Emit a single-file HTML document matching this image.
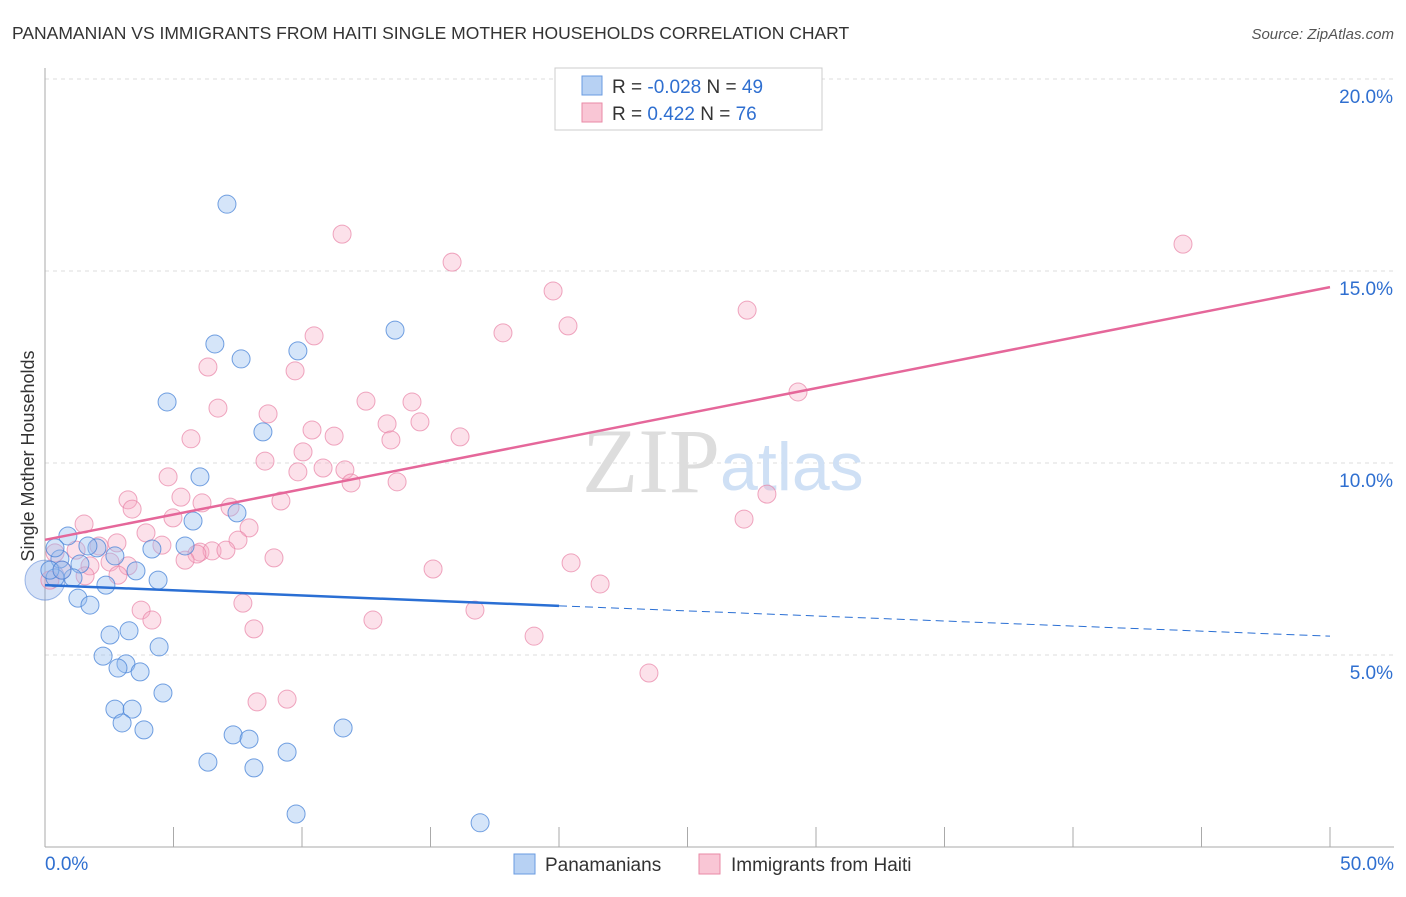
<!DOCTYPE html>
<html><head><meta charset="utf-8"><style>
body{margin:0;background:#fff;font-family:"Liberation Sans",sans-serif;}
#wrap{position:relative;width:1406px;height:892px;}
</style></head><body>
<div id="wrap">
<svg id="svg" width="1406" height="892" xmlns="http://www.w3.org/2000/svg">
<text x="12" y="39" font-size="17.5" fill="#333">PANAMANIAN VS IMMIGRANTS FROM HAITI SINGLE MOTHER HOUSEHOLDS CORRELATION CHART</text>
<text x="1394" y="39" font-size="15" fill="#555" font-style="italic" text-anchor="end">Source: ZipAtlas.com</text>
<text x="34" y="456" font-size="18" fill="#333" text-anchor="middle" transform="rotate(-90 34 456)">Single Mother Households</text>
<g id="grid"></g>
<text x="720" y="492" font-size="92" fill="#ddd" text-anchor="end" font-family="Liberation Serif,serif">ZIP</text>
<text x="720" y="490" font-size="68" fill="#cfe0f5">atlas</text>
<g id="marks"></g>
<g id="trend"></g>
<g>
<rect x="555" y="68" width="267" height="62" fill="#fff" stroke="#ccc"/>
<rect x="582" y="76" width="20" height="19" fill="#b7d1f3" stroke="#6a9be0"/>
<rect x="582" y="103" width="20" height="19" fill="#f9c6d5" stroke="#e98aa6"/>
<text x="612" y="93" font-size="19" fill="#333">R = <tspan fill="#2f6fd0">-0.028</tspan>   N = <tspan fill="#2f6fd0">49</tspan></text>
<text x="612" y="120" font-size="19" fill="#333">R =   <tspan fill="#2f6fd0">0.422</tspan>   N = <tspan fill="#2f6fd0">76</tspan></text>
</g>
<g>
<rect x="514" y="854" width="21" height="20" fill="#b7d1f3" stroke="#6a9be0"/>
<text x="545" y="871" font-size="19" fill="#333">Panamanians</text>
<rect x="699" y="854" width="21" height="20" fill="#f9c6d5" stroke="#e98aa6"/>
<text x="731" y="871" font-size="19" fill="#333">Immigrants from Haiti</text>
</g>
</svg>
</div>
<script>
const xTicks=[0,5,10,15,20,25,30,35,40,45,50];
const yTicks=[5,10,15,20];
const yTickLabels=["5.0%","10.0%","15.0%","20.0%"];
const xTickLabels=["0.0%","50.0%"];
const blueX=[7.08,6.61,7.63,9.84,13.62,4.75,8.48,6.03,7.47,5.76,0.89,2.02,4.16,5.45,1.67,0.58,2.72,1.36,0.39,1.09,2.37,3.54,4.40,1.28,1.75,2.53,3.27,4.44,2.26,3.15,2.84,3.70,4.59,2.72,3.39,3.00,3.85,7.32,7.94,11.60,9.42,6.34,8.13,9.77,16.93,0.19,0.66,0.39];
const blueY=[16.74,13.10,12.71,12.92,13.46,11.59,10.81,9.64,8.70,8.49,8.10,7.79,7.76,7.84,7.84,7.50,7.58,7.37,7.01,7.01,6.82,7.19,6.95,6.48,6.30,5.52,5.63,5.21,4.97,4.77,4.66,4.56,4.01,3.59,3.59,3.23,3.05,2.92,2.81,3.10,2.47,2.21,2.06,0.86,0.63,7.21,7.21,7.79];
const pinkX=[11.56,15.84,44.28,19.77,27.32,20.35,17.82,10.47,6.34,9.73,29.30,12.49,14.28,6.73,8.68,14.59,13.31,10.39,11.25,16.15,5.68,13.46,10.04,8.56,9.84,10.82,11.67,4.79,11.91,13.70,28.09,3.23,5.29,9.18,6.11,3.39,7.20,27.20,4.98,1.52,7.94,3.93,2.80,7.51,2.10,4.55,1.21,0.39,6.03,6.50,7.04,5.91,8.91,2.53,5.45,1.75,0.66,3.23,2.84,1.56,15.10,20.47,21.60,7.70,3.74,16.73,4.16,12.76,8.13,19.03,23.50,8.25,9.42,0.19];
const pinkY=[15.96,15.23,15.70,14.48,13.98,13.57,13.39,13.31,12.50,12.40,11.85,11.61,11.59,11.43,11.28,11.07,11.02,10.86,10.70,10.68,10.63,10.60,10.29,10.05,9.77,9.87,9.82,9.64,9.48,9.51,9.19,9.04,9.11,9.01,8.96,8.80,8.85,8.54,8.57,8.41,8.31,8.18,7.92,7.99,7.84,7.86,7.73,7.66,7.68,7.71,7.73,7.63,7.53,7.42,7.47,7.32,7.21,7.32,7.08,7.06,7.24,7.40,6.85,6.35,6.17,6.17,5.91,5.91,5.68,5.49,4.53,3.78,3.85,6.95];
const blueTrend=[6.82,6.28,5.49]; // at x=0, 20, 50
const pinkTrend=[8.0,14.58]; // at x=0, 50
const NS="http://www.w3.org/2000/svg";
const X=v=>45+v*25.7, Y=v=>847-v*38.4;
function mk(t,a,p){const e=document.createElementNS(NS,t);for(const k in a)e.setAttribute(k,a[k]);p.appendChild(e);return e;}
const grid=document.getElementById('grid');
yTicks.forEach((t,i)=>{
 const l=mk('line',{x1:45,x2:1394,y1:Y(t),y2:Y(t),stroke:'#ddd','stroke-dasharray':'4,4'},grid);
 
 
 const tx=mk('text',{x:1393,y:Y(t)+24,'font-size':19,fill:'#2f6fd0','text-anchor':'end'},grid);
 tx.textContent=yTickLabels[i];
 
 
});
const ax=mk('line',{x1:45,x2:45,y1:68,y2:847,stroke:'#aaa'},grid);


const bx=mk('line',{x1:45,x2:1394,y1:847,y2:847,stroke:'#aaa'},grid);


xTicks.forEach(t=>{
 const l=mk('line',{x1:X(t),x2:X(t),y1:827,y2:847,stroke:'#aaa'},grid);
 
 
});
[[0,'start',45],[50,'end',1394]].forEach((o,i)=>{
 const tx=mk('text',{x:o[2],y:870,'font-size':19,fill:'#2f6fd0','text-anchor':o[1]},grid);
 tx.textContent=xTickLabels[i];
 
 
});
const marks=document.getElementById('marks');
const bigB=mk('circle',{cx:X(0),cy:Y(6.95),r:20,fill:'rgba(120,160,230,0.3)',stroke:'rgba(70,120,210,0.5)'},marks);


pinkX.forEach((x,i)=>{
 const c=mk('circle',{cx:X(x),cy:Y(pinkY[i]),r:9,fill:'rgba(246,170,195,0.35)',stroke:'rgba(232,130,165,0.7)'},marks);
 
 
});
blueX.forEach((x,i)=>{
 const c=mk('circle',{cx:X(x),cy:Y(blueY[i]),r:9,fill:'rgba(150,190,240,0.4)',stroke:'rgba(70,130,215,0.75)'},marks);
 
 
});
const tr=document.getElementById('trend');
const pl=mk('line',{x1:X(0),y1:Y(pinkTrend[0]),x2:X(50),y2:Y(pinkTrend[1]),stroke:'#e5679a','stroke-width':2.5},tr);


const bl=mk('line',{x1:X(0),y1:Y(blueTrend[0]),x2:X(20),y2:Y(blueTrend[1]),stroke:'#2a6fd4','stroke-width':2.5},tr);


const bd=mk('line',{x1:X(20),y1:Y(blueTrend[1]),x2:X(50),y2:Y(blueTrend[2]),stroke:'#2a6fd4','stroke-width':1,'stroke-dasharray':'8,5'},tr);


</script>
</body></html>
